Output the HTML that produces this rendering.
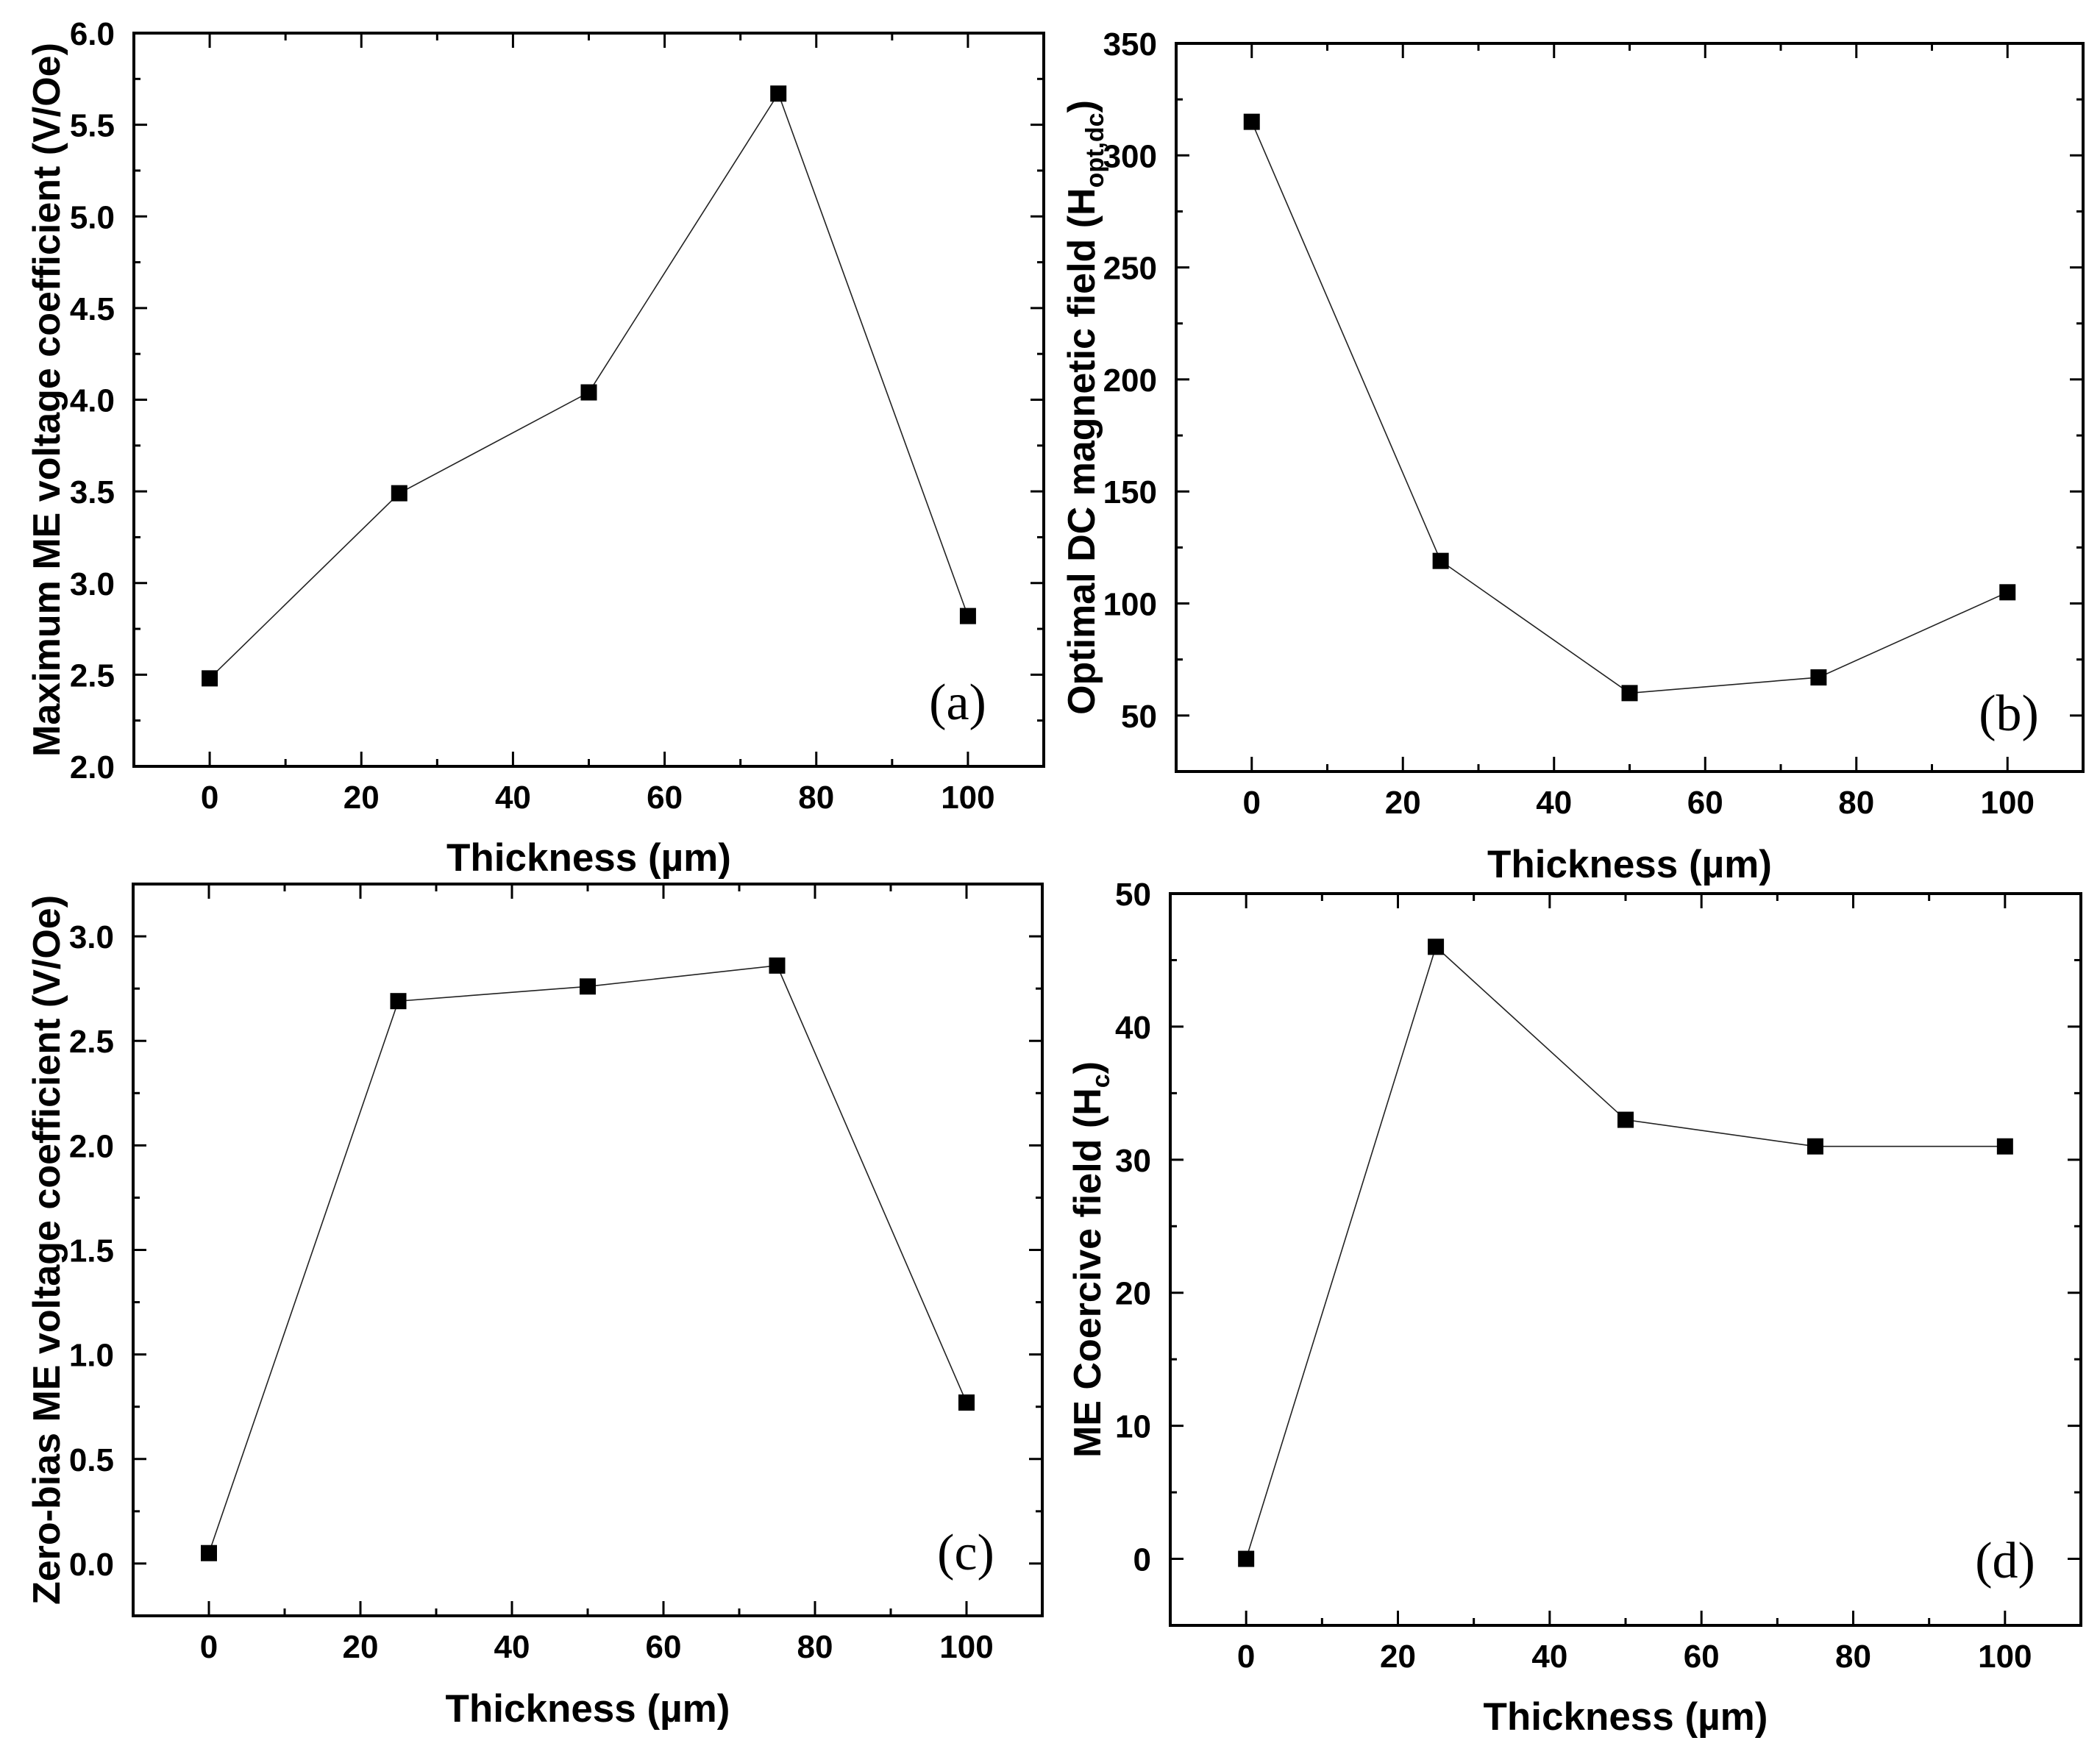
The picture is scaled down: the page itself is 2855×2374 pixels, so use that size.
<!DOCTYPE html>
<html><head><meta charset="utf-8"><style>
html,body{margin:0;padding:0;background:#fff}
svg{display:block}
text{font-family:"Liberation Sans",Arial,sans-serif;font-weight:bold;fill:#000}
</style></head><body>
<svg id="fig" xmlns="http://www.w3.org/2000/svg" width="2855" height="2374" viewBox="0 0 2855 2374"></svg>
<script>
const thickness = [0, 25, 50, 75, 100];
const xTicks = [0, 20, 40, 60, 80, 100];
const seriesA = [2.48, 3.49, 4.04, 5.67, 2.82];
const seriesB = [315, 119, 60, 67, 105];
const seriesC = [0.05, 2.69, 2.76, 2.86, 0.77];
const seriesD = [0, 46, 33, 31, 31];
const yTicksA = [2.0, 2.5, 3.0, 3.5, 4.0, 4.5, 5.0, 5.5, 6.0];
const yTicksB = [50, 100, 150, 200, 250, 300, 350];
const yTicksC = [0.0, 0.5, 1.0, 1.5, 2.0, 2.5, 3.0];
const yTicksD = [0, 10, 20, 30, 40, 50];

const NS = "http://www.w3.org/2000/svg";
const svg = document.getElementById('fig');
function mk(tag, attrs, parent){const e=document.createElementNS(NS,tag);for(const k in attrs)e.setAttribute(k,attrs[k]);(parent||svg).appendChild(e);return e;}

const panels = [
 {id:'a', box:[182,45,1419,1042], xr:[-10,110], yr:[2,6], data:seriesA, yt:yTicksA, minorY:0.25, dec:1, ytitle:['Maximum ME voltage coefficient (V/Oe)'], ytx:62, xty:1165, lab:[1302,978]},
 {id:'b', box:[1599,59,2832,1049], xr:[-10,110], yr:[25,350], data:seriesB, yt:yTicksB, minorY:25, dec:0, ytitle:'B', ytx:1469, xty:1174, lab:[2731,993]},
 {id:'c', box:[181,1202,1417,2197], xr:[-10,110], yr:[-0.25,3.25], data:seriesC, yt:yTicksC, minorY:0.25, dec:1, ytitle:['Zero-bias ME voltage coefficient (V/Oe)'], ytx:62, xty:2322, lab:[1313,2134]},
 {id:'d', box:[1591,1215,2829,2210], xr:[-10,110], yr:[-5,50], data:seriesD, yt:yTicksD, minorY:5, dec:0, ytitle:'D', ytx:1477, xty:2333, lab:[2726,2145]}
];

panels.forEach(p=>{
 const [L,T,R,B]=p.box;
 const g=mk('g',{});
 
 
 const sx=v=>L+(v-p.xr[0])/(p.xr[1]-p.xr[0])*(R-L);
 const sy=v=>B-(v-p.yr[0])/(p.yr[1]-p.yr[0])*(B-T);
 const tk=mk('g',{stroke:'#000','stroke-width':3},g);
 
 
 for(let v=p.xr[0];v<=p.xr[1]+1e-9;v+=10){
   const major=xTicks.includes(v); const len=major?20:10; const x=sx(v);
   mk('line',{x1:x,y1:B,x2:x,y2:B-len},tk); mk('line',{x1:x,y1:T,x2:x,y2:T+len},tk);
 }
 const yMajStep=p.yt[1]-p.yt[0];
 for(let v=p.yr[0];v<=p.yr[1]+1e-9;v+=p.minorY){
   if(v<p.yr[0]+1e-9||v>p.yr[1]-1e-9){continue;}
   const r=(v-p.yt[0])/yMajStep; const major=Math.abs(r-Math.round(r))<1e-6; const len=major?18:9; const y=sy(v);
   mk('line',{x1:L,y1:y,x2:L+len,y2:y},tk); mk('line',{x1:R,y1:y,x2:R-len,y2:y},tk);
 }
 const fr=mk('rect',{x:L,y:T,width:R-L,height:B-T,fill:'none',stroke:'#000','stroke-width':4},g);
 
 
 xTicks.forEach(v=>{
   const t=mk('text',{x:sx(v),y:B+57,'font-size':44,'text-anchor':'middle'},g);
   
   
   t.textContent=String(v);
 });
 p.yt.forEach(v=>{
   const t=mk('text',{x:L-26,y:sy(v)+16,'font-size':44,'text-anchor':'end'},g);
   
   
   t.textContent=v.toFixed(p.dec);
 });
 const xt=mk('text',{x:(L+R)/2,y:p.xty+19,'font-size':53,'text-anchor':'middle'},g);
 
 
 xt.textContent='Thickness (µm)';
 const cy=(T+B)/2;
 const yt=mk('text',{x:p.ytx+19,y:cy,'font-size':52,'text-anchor':'middle',transform:`rotate(-90 ${p.ytx+19} ${cy})`},g);
 
 
 if(p.ytitle==='B'){
   yt.innerHTML='Optimal DC magnetic field (H<tspan font-size="34" dy="12">opt,dc</tspan><tspan dy="-12">)</tspan>';
 } else if(p.ytitle==='D'){
   yt.innerHTML='ME Coercive field (H<tspan font-size="34" dy="12">c</tspan><tspan dy="-12">)</tspan>';
 } else yt.textContent=p.ytitle[0];
 const pts=thickness.map((x,i)=>sx(x)+','+sy(p.data[i])).join(' ');
 const pl=mk('polyline',{points:pts,fill:'none',stroke:'#222','stroke-width':1.6},g);
 
 
 thickness.forEach((x,i)=>{
   const m=mk('rect',{x:sx(x)-11,y:sy(p.data[i])-11,width:22,height:22,fill:'#000'},g);
   
   
 });
 const lb=mk('text',{x:p.lab[0],y:p.lab[1],'font-size':70,'text-anchor':'middle',style:'font-family:"Liberation Serif",serif;font-weight:normal'},g);
 
 
 lb.textContent='('+p.id+')';
});
</script>
</body></html>
